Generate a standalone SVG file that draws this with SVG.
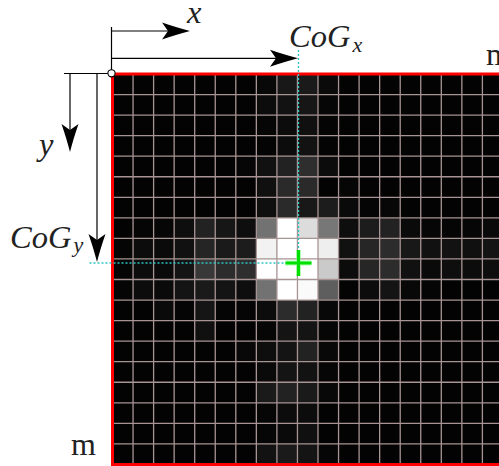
<svg xmlns="http://www.w3.org/2000/svg" width="499" height="466" viewBox="0 0 499 466">
<style>
.ln{stroke:#000;stroke-width:1.2;fill:none}
.mi{font-family:"Liberation Serif",serif;font-style:italic;font-size:32.5px;fill:#222}
.rm{font-family:"Liberation Serif",serif;font-size:32px;fill:#222}
.cy{stroke:#2cc4c4;stroke-width:1.4;stroke-dasharray:2 2;fill:none}
.gl{stroke:#a89494;stroke-width:1.3;fill:none}
</style>
<defs>
<path id="ah" d="M0,0 C-8,-2 -18,-5 -28,-8.5 L-22,0 L-28,8.5 C-18,5 -8,2 0,0 Z" fill="#000"/>
</defs>
<rect width="499" height="466" fill="#fff"/>
<g id="image">
<g transform="translate(112.5,74) scale(20.55)">
<rect x="0" y="0" width="19" height="19" fill="#030303"/>
<g shape-rendering="crispEdges">
<rect x="7" y="0" width="1" height="1" fill="#080808"/><rect x="8" y="0" width="1" height="1" fill="#181818"/><rect x="9" y="0" width="1" height="1" fill="#1a1a1a"/><rect x="10" y="0" width="1" height="1" fill="#0a0a0a"/>
<rect x="7" y="1" width="1" height="1" fill="#0c0c0c"/><rect x="8" y="1" width="1" height="1" fill="#121212"/><rect x="9" y="1" width="1" height="1" fill="#161616"/><rect x="10" y="1" width="1" height="1" fill="#060606"/>
<rect x="7" y="2" width="1" height="1" fill="#060606"/><rect x="8" y="2" width="1" height="1" fill="#0c0c0c"/><rect x="9" y="2" width="1" height="1" fill="#101010"/><rect x="10" y="2" width="1" height="1" fill="#040404"/>
<rect x="7" y="3" width="1" height="1" fill="#040404"/><rect x="8" y="3" width="1" height="1" fill="#0c0c0c"/><rect x="9" y="3" width="1" height="1" fill="#121212"/><rect x="10" y="3" width="1" height="1" fill="#040404"/>
<rect x="6" y="4" width="1" height="1" fill="#060606"/><rect x="7" y="4" width="1" height="1" fill="#111111"/><rect x="8" y="4" width="1" height="1" fill="#222222"/><rect x="9" y="4" width="1" height="1" fill="#2e2e2e"/><rect x="10" y="4" width="1" height="1" fill="#0c0c0c"/>
<rect x="7" y="5" width="1" height="1" fill="#101010"/><rect x="8" y="5" width="1" height="1" fill="#2a2a2a"/><rect x="9" y="5" width="1" height="1" fill="#2a2a2a"/><rect x="11" y="5" width="1" height="1" fill="#060606"/>
<rect x="7" y="6" width="1" height="1" fill="#0f0f0f"/><rect x="8" y="6" width="1" height="1" fill="#2a2a2a"/><rect x="9" y="6" width="1" height="1" fill="#181818"/><rect x="10" y="6" width="1" height="1" fill="#1c1c1c"/><rect x="11" y="6" width="1" height="1" fill="#0a0a0a"/><rect x="12" y="6" width="1" height="1" fill="#050505"/><rect x="13" y="6" width="1" height="1" fill="#070707"/>
<rect x="1" y="7" width="1" height="1" fill="#050505"/><rect x="2" y="7" width="1" height="1" fill="#060606"/><rect x="3" y="7" width="1" height="1" fill="#0e0e0e"/><rect x="4" y="7" width="1" height="1" fill="#222222"/><rect x="5" y="7" width="1" height="1" fill="#161616"/><rect x="6" y="7" width="1" height="1" fill="#0e0e0e"/><rect x="7" y="7" width="1" height="1" fill="#727272"/><rect x="8" y="7" width="1" height="1" fill="#ffffff"/><rect x="9" y="7" width="1" height="1" fill="#dcdcdc"/><rect x="10" y="7" width="1" height="1" fill="#777777"/><rect x="11" y="7" width="1" height="1" fill="#0e0e0e"/><rect x="12" y="7" width="1" height="1" fill="#1c1c1c"/><rect x="13" y="7" width="1" height="1" fill="#222222"/><rect x="14" y="7" width="1" height="1" fill="#0a0a0a"/><rect x="15" y="7" width="1" height="1" fill="#060606"/><rect x="16" y="7" width="1" height="1" fill="#050505"/><rect x="17" y="7" width="1" height="1" fill="#060606"/><rect x="18" y="7" width="1" height="1" fill="#0a0a0a"/>
<rect x="0" y="8" width="1" height="1" fill="#050505"/><rect x="1" y="8" width="1" height="1" fill="#0c0c0c"/><rect x="2" y="8" width="1" height="1" fill="#0a0a0a"/><rect x="3" y="8" width="1" height="1" fill="#111111"/><rect x="4" y="8" width="1" height="1" fill="#252525"/><rect x="5" y="8" width="1" height="1" fill="#1a1a1a"/><rect x="6" y="8" width="1" height="1" fill="#1c1c1c"/><rect x="7" y="8" width="1" height="1" fill="#f2f2f2"/><rect x="8" y="8" width="1" height="1" fill="#ffffff"/><rect x="9" y="8" width="1" height="1" fill="#ffffff"/><rect x="10" y="8" width="1" height="1" fill="#eeeeee"/><rect x="11" y="8" width="1" height="1" fill="#111111"/><rect x="12" y="8" width="1" height="1" fill="#262626"/><rect x="13" y="8" width="1" height="1" fill="#2c2c2c"/><rect x="14" y="8" width="1" height="1" fill="#181818"/><rect x="15" y="8" width="1" height="1" fill="#111111"/><rect x="16" y="8" width="1" height="1" fill="#121212"/><rect x="17" y="8" width="1" height="1" fill="#101010"/><rect x="18" y="8" width="1" height="1" fill="#141414"/>
<rect x="0" y="9" width="1" height="1" fill="#050505"/><rect x="1" y="9" width="1" height="1" fill="#0c0c0c"/><rect x="2" y="9" width="1" height="1" fill="#0a0a0a"/><rect x="3" y="9" width="1" height="1" fill="#141414"/><rect x="4" y="9" width="1" height="1" fill="#383838"/><rect x="5" y="9" width="1" height="1" fill="#2c2c2c"/><rect x="6" y="9" width="1" height="1" fill="#2e2e2e"/><rect x="7" y="9" width="1" height="1" fill="#ffffff"/><rect x="8" y="9" width="1" height="1" fill="#ffffff"/><rect x="9" y="9" width="1" height="1" fill="#ffffff"/><rect x="10" y="9" width="1" height="1" fill="#cacaca"/><rect x="11" y="9" width="1" height="1" fill="#0c0c0c"/><rect x="12" y="9" width="1" height="1" fill="#262626"/><rect x="13" y="9" width="1" height="1" fill="#2c2c2c"/><rect x="14" y="9" width="1" height="1" fill="#111111"/><rect x="15" y="9" width="1" height="1" fill="#0a0a0a"/><rect x="16" y="9" width="1" height="1" fill="#0e0e0e"/><rect x="17" y="9" width="1" height="1" fill="#0c0c0c"/><rect x="18" y="9" width="1" height="1" fill="#0e0e0e"/>
<rect x="0" y="10" width="1" height="1" fill="#050505"/><rect x="1" y="10" width="1" height="1" fill="#0c0c0c"/><rect x="2" y="10" width="1" height="1" fill="#0a0a0a"/><rect x="3" y="10" width="1" height="1" fill="#141414"/><rect x="4" y="10" width="1" height="1" fill="#1a1a1a"/><rect x="5" y="10" width="1" height="1" fill="#141414"/><rect x="6" y="10" width="1" height="1" fill="#0e0e0e"/><rect x="7" y="10" width="1" height="1" fill="#727272"/><rect x="8" y="10" width="1" height="1" fill="#ffffff"/><rect x="9" y="10" width="1" height="1" fill="#fafafa"/><rect x="10" y="10" width="1" height="1" fill="#5e5e5e"/><rect x="11" y="10" width="1" height="1" fill="#040404"/><rect x="12" y="10" width="1" height="1" fill="#0c0c0c"/><rect x="13" y="10" width="1" height="1" fill="#141414"/><rect x="14" y="10" width="1" height="1" fill="#080808"/><rect x="15" y="10" width="1" height="1" fill="#050505"/>
<rect x="2" y="11" width="1" height="1" fill="#0a0a0a"/><rect x="3" y="11" width="1" height="1" fill="#050505"/><rect x="4" y="11" width="1" height="1" fill="#151515"/><rect x="5" y="11" width="1" height="1" fill="#050505"/><rect x="6" y="11" width="1" height="1" fill="#050505"/><rect x="7" y="11" width="1" height="1" fill="#0c0c0c"/><rect x="8" y="11" width="1" height="1" fill="#2c2c2c"/><rect x="9" y="11" width="1" height="1" fill="#222222"/><rect x="10" y="11" width="1" height="1" fill="#080808"/>
<rect x="4" y="12" width="1" height="1" fill="#101010"/><rect x="7" y="12" width="1" height="1" fill="#060606"/><rect x="8" y="12" width="1" height="1" fill="#141414"/><rect x="9" y="12" width="1" height="1" fill="#141414"/><rect x="10" y="12" width="1" height="1" fill="#060606"/>
<rect x="6" y="13" width="1" height="1" fill="#080808"/><rect x="7" y="13" width="1" height="1" fill="#0e0e0e"/><rect x="8" y="13" width="1" height="1" fill="#141414"/><rect x="9" y="13" width="1" height="1" fill="#222222"/><rect x="10" y="13" width="1" height="1" fill="#080808"/>
<rect x="7" y="14" width="1" height="1" fill="#0a0a0a"/><rect x="8" y="14" width="1" height="1" fill="#141414"/><rect x="9" y="14" width="1" height="1" fill="#121212"/><rect x="10" y="14" width="1" height="1" fill="#060606"/>
<rect x="7" y="15" width="1" height="1" fill="#1a1a1a"/><rect x="8" y="15" width="1" height="1" fill="#222222"/><rect x="9" y="15" width="1" height="1" fill="#1a1a1a"/><rect x="10" y="15" width="1" height="1" fill="#080808"/>
<rect x="7" y="16" width="1" height="1" fill="#060606"/><rect x="8" y="16" width="1" height="1" fill="#0c0c0c"/><rect x="9" y="16" width="1" height="1" fill="#0c0c0c"/>
<rect x="7" y="17" width="1" height="1" fill="#060606"/><rect x="8" y="17" width="1" height="1" fill="#0a0a0a"/><rect x="9" y="17" width="1" height="1" fill="#101010"/>
<rect x="7" y="18" width="1" height="1" fill="#121212"/><rect x="8" y="18" width="1" height="1" fill="#1a1a1a"/><rect x="9" y="18" width="1" height="1" fill="#141414"/><rect x="10" y="18" width="1" height="1" fill="#060606"/>
</g>
<path class="gl" vector-effect="non-scaling-stroke" d="M1,0V19M2,0V19M3,0V19M4,0V19M5,0V19M6,0V19M7,0V19M8,0V19M9,0V19M10,0V19M11,0V19M12,0V19M13,0V19M14,0V19M15,0V19M16,0V19M17,0V19M18,0V19M0,1H19M0,2H19M0,3H19M0,4H19M0,5H19M0,6H19M0,7H19M0,8H19M0,9H19M0,10H19M0,11H19M0,12H19M0,13H19M0,14H19M0,15H19M0,16H19M0,17H19M0,18H19"/>
<rect x="0" y="0" width="19" height="19" fill="none" stroke="#ff0000" stroke-width="3" vector-effect="non-scaling-stroke"/>
</g>
</g>
<g id="connectors">
<path class="ln" d="M64,73.5H111.5"/>
<path class="ln" d="M111.5,27V73"/>
<path class="ln" d="M111.5,31H185"/>
<use href="#ah" transform="translate(190,31)"/>
<path class="ln" d="M111.5,58.3H293"/>
<use href="#ah" transform="translate(298,58.3)"/>
<path class="ln" d="M70,73.5V147"/>
<use href="#ah" transform="translate(70,152) rotate(90)"/>
<path class="ln" d="M97,73.5V257"/>
<use href="#ah" transform="translate(97,262) rotate(90)"/>
<path class="cy" d="M298.5,50V263"/>
<path class="cy" d="M89.5,263H298.5"/>
</g>
<g id="origin"><circle cx="111.5" cy="73.3" r="3.6" fill="#fff" stroke="#000" stroke-width="1.1"/></g>
<g id="cog">
<path d="M285.5,263H311.5M298.5,250V276" stroke="#7dff7d" stroke-width="5" opacity="0.6" fill="none"/>
<path d="M285.5,263H311.5M298.5,250V276" stroke="#00e000" stroke-width="3" fill="none"/>
</g>
<g id="labels">
<text class="mi" x="187" y="23" font-size="31">x</text>
<text class="mi" x="39" y="155">y</text>
<text class="mi" x="289" y="47">CoG<tspan font-size="22" dx="2" dy="5">x</tspan></text>
<text class="mi" x="10" y="248">CoG<tspan font-size="22" dx="2" dy="4">y</tspan></text>
<text class="rm" x="71" y="455">m</text>
<text class="rm" x="486" y="65">m</text>
</g>
</svg>
